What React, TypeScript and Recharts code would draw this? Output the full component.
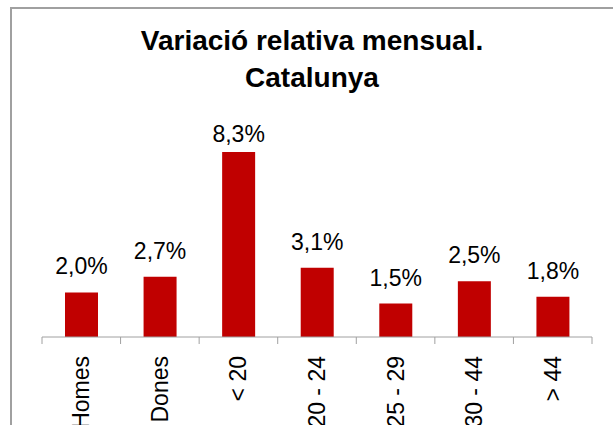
import { BarChart, Bar, XAxis, YAxis, LabelList } from 'recharts';

const categories = ['Homes', 'Dones', '< 20', '20 - 24', '25 - 29', '30 - 44', '> 44'];
const values = [2.0, 2.7, 8.3, 3.1, 1.5, 2.5, 1.8];
const valueLabels = ['2,0%', '2,7%', '8,3%', '3,1%', '1,5%', '2,5%', '1,8%'];
const boundaryTicks = [0, 1, 2, 3, 4, 5, 6, 7];

const data = categories.map((name, i) => ({
  name,
  pos: i + 0.5,
  value: values[i],
  label: valueLabels[i],
}));

const FONT = '"Liberation Sans", Arial, sans-serif';
const WIDTH = 613;
const HEIGHT = 425;
const MARGIN = { top: 114, right: 21, left: 42, bottom: 0 };
const HALF_BAND = (WIDTH - MARGIN.left - MARGIN.right) / categories.length / 2;

function CategoryTick(props: any) {
  const { x, y, payload } = props;
  const idx = payload.value;
  if (idx >= categories.length) return null;
  const cx = x + HALF_BAND;
  const ty = y + 10;
  return (
    <text
      x={cx}
      y={ty}
      transform={`rotate(-90, ${cx}, ${ty})`}
      textAnchor="end"
      dy="0.35em"
      fontSize={23}
      fontFamily={FONT}
      fill="#000"
    >
      {categories[idx]}
    </text>
  );
}

function ValueLabel(props: any) {
  const { x, y, width, index } = props;
  // keep label inside the plot like Excel does
  const by = Math.max(y - 18, 142);
  return (
    <text x={x + width / 2} y={by} textAnchor="middle" fontSize={23} fontFamily={FONT} fill="#000">
      {valueLabels[index]}
    </text>
  );
}

export default function App() {
  return (
    <div
      style={{
        position: 'fixed',
        left: 0,
        top: 0,
        width: WIDTH,
        height: HEIGHT,
        overflow: 'hidden',
        background: '#fff',
      }}
    >
      <div
        style={{
          position: 'absolute',
          left: 10,
          top: 7,
          width: 700,
          height: 500,
          borderLeft: '2px solid #a0a0a0',
          borderTop: '2px solid #a0a0a0',
        }}
      />
      <div
        style={{
          position: 'absolute',
          left: 0,
          top: 22,
          width: 624,
          textAlign: 'center',
          fontFamily: FONT,
          fontWeight: 'bold',
          fontSize: 28,
          lineHeight: '37px',
          color: '#000',
        }}
      >
        Variació relativa mensual.
        <br />
        Catalunya
      </div>
      <div style={{ position: 'absolute', left: 0, top: 0 }}>
        <BarChart width={WIDTH} height={HEIGHT} data={data} margin={MARGIN}>
          <XAxis
            dataKey="pos"
            type="number"
            domain={[0, 7]}
            ticks={boundaryTicks}
            interval={0}
            height={88}
            tickSize={7}
            stroke="#a0a0a0"
            tick={<CategoryTick />}
          />
          <YAxis hide width={0} domain={[0, 10]} />
          <Bar dataKey="value" fill="#c00000" barSize={33} isAnimationActive={false}>
            <LabelList dataKey="label" content={<ValueLabel />} />
          </Bar>
        </BarChart>
      </div>
    </div>
  );
}
